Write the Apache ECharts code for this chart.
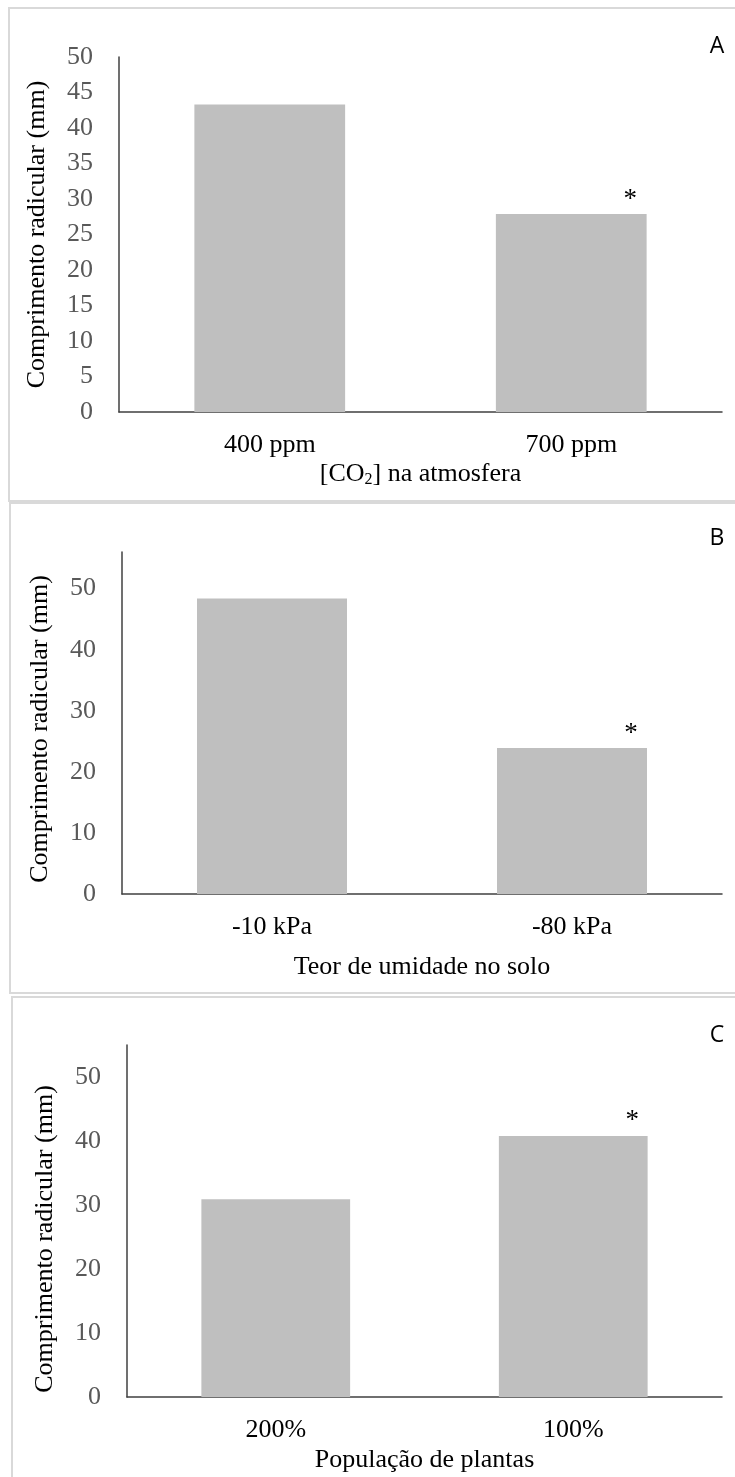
<!DOCTYPE html>
<html>
<head>
<meta charset="utf-8">
<script src="https://cdn.jsdelivr.net/npm/echarts@6/dist/echarts.min.js"></script>
<style>
html, body { margin: 0; padding: 0; background: #fff; }
#main { width: 735px; height: 1477px; }
</style>
</head>
<body>
<div id="main"></div>
<script>
// dados
var catsA = ['400 ppm', '700 ppm'];
var valsA = [43.3, 27.9];
var marksA = ['', '*'];

var catsB = ['-10 kPa', '-80 kPa'];
var valsB = [48.4, 23.9];
var marksB = ['', '*'];

var catsC = ['200%', '100%'];
var valsC = [30.9, 40.8];
var marksC = ['', '*'];

var yName = 'Comprimento radicular (mm)';
var xNames = ['[CO{sub|2}] na atmosfera', 'Teor de umidade no solo', 'População de plantas'];
var letters = ['A', 'B', 'C'];

var serif = '"Liberation Serif", "Times New Roman", serif';
var barColor = '#bfbfbf';
var axisColor = '#404040';

// paineis: grid, eixo y, posicao das legendas
var panels = [
    { cats: catsA, vals: valsA, marks: marksA, grid: { left: 119, top: 57, width: 603, height: 355 },
      max: 50, interval: 5, nameGap: 48, yGap: 69, yPad: [0, 0, 0, 0], letterY: 46 },
    { cats: catsB, vals: valsB, marks: marksB, grid: { left: 122, top: 552, width: 600, height: 342 },
      max: 56, interval: 10, nameGap: 60, yGap: 69, yPad: [0, 12, 0, 0], letterY: 538 },
    { cats: catsC, vals: valsC, marks: marksC, grid: { left: 127, top: 1045, width: 595, height: 352 },
      max: 55, interval: 10, nameGap: 50, yGap: 69, yPad: [0, 36, 0, 0], letterY: 1035 }
];

var grids = [], xAxes = [], yAxes = [], series = [], graphics = [];

// molduras dos paineis
graphics.push(
    { type: 'rect', shape: { x: 9, y: 8, width: 740, height: 493 }, style: { fill: null, stroke: '#d9d9d9', lineWidth: 2 } },
    { type: 'rect', shape: { x: 10, y: 503, width: 740, height: 490 }, style: { fill: null, stroke: '#d9d9d9', lineWidth: 2 } },
    { type: 'rect', shape: { x: 12, y: 997, width: 740, height: 500 }, style: { fill: null, stroke: '#d9d9d9', lineWidth: 2 } }
);

panels.forEach(function (p, i) {
    grids.push(p.grid);
    xAxes.push({
        type: 'category',
        gridIndex: i,
        data: p.cats,
        name: xNames[i],
        nameLocation: 'middle',
        nameGap: p.nameGap,
        nameTextStyle: {
            fontFamily: serif, fontSize: 26, color: '#000',
            rich: { sub: { fontFamily: serif, fontSize: 16, color: '#000', padding: [12, 0, 0, 0] } }
        },
        axisLine: { lineStyle: { color: axisColor, width: 1.5 } },
        axisTick: { show: false },
        axisLabel: { fontFamily: serif, fontSize: 26, color: '#000', margin: 20 },
        splitLine: { show: false }
    });
    yAxes.push({
        type: 'value',
        gridIndex: i,
        min: 0,
        max: p.max,
        interval: p.interval,
        name: yName,
        nameLocation: 'middle',
        nameGap: p.yGap,
        nameTextStyle: { fontFamily: serif, fontSize: 26, color: '#000', padding: p.yPad },
        axisLine: { show: true, lineStyle: { color: axisColor, width: 1.5 } },
        axisTick: { show: false },
        axisLabel: {
            fontFamily: serif, fontSize: 26, color: '#595959', margin: 26,
            formatter: function (v) { return v % p.interval === 0 ? String(v) : ''; }
        },
        splitLine: { show: false }
    });
    series.push({
        type: 'bar',
        xAxisIndex: i,
        yAxisIndex: i,
        barWidth: '50%',
        itemStyle: { color: barColor },
        label: {
            show: true,
            position: 'top',
            distance: 1,
            offset: [59, 0],
            fontFamily: serif,
            fontSize: 27,
            color: '#000',
            formatter: function (d) { return p.marks[d.dataIndex]; }
        },
        data: p.vals
    });
    graphics.push({
        type: 'text',
        x: 717, y: p.letterY,
        style: { text: letters[i], fontFamily: '"Open Sans", sans-serif', fontSize: 23, fill: '#000', align: 'center', verticalAlign: 'middle' }
    });
});

var myChart = echarts.init(document.getElementById('main'));
var option = {
    backgroundColor: '#fff',
    animation: false,
    grid: grids,
    xAxis: xAxes,
    yAxis: yAxes,
    series: series,
    graphic: graphics
};
myChart.setOption(option);
window.onresize = myChart.resize;
</script>
</body>
</html>
